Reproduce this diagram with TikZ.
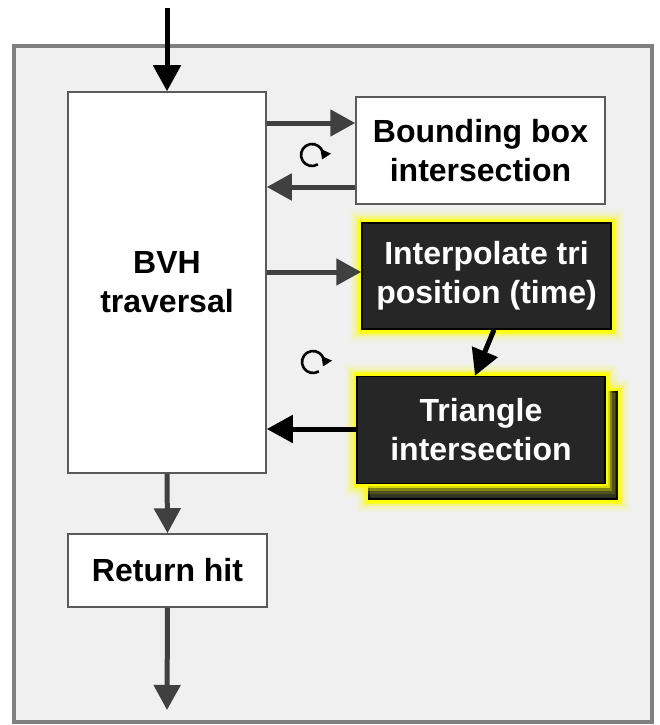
\documentclass[tikz,border=0pt]{standalone}
\usepackage{fontspec}
\setmainfont{Liberation Sans}
\usetikzlibrary{arrows.meta}
\definecolor{outerfill}{HTML}{F0F0F0}
\definecolor{outerline}{HTML}{808080}
\definecolor{boxline}{HTML}{5A5A5A}
\definecolor{arrgray}{HTML}{404040}
\definecolor{darkfill}{HTML}{262626}
\definecolor{glowy}{HTML}{FFFF00}
\begin{document}
\begin{tikzpicture}[x=1pt,y=-1pt,
  lbl/.style={inner sep=0pt, align=center, font=\bfseries\fontsize{32}{39}\selectfont},
  lightbox/.style={lbl, draw=boxline, line width=1.5pt, fill=white, text=black},
  glow/.style={preaction={draw=glowy, line width=26pt, opacity=0.07},
               preaction={draw=glowy, line width=20pt, opacity=0.14},
               preaction={draw=glowy, line width=14pt, opacity=0.3},
               preaction={draw=glowy, line width=9pt, opacity=0.7},
               preaction={draw=glowy, line width=5pt}},
  darkbox/.style={lbl, glow, draw=black, line width=1.5pt, fill=darkfill, text=white},
  grayarrow/.style={draw=arrgray, line width=5pt, -{Triangle[length=25pt,width=26pt]}},
  blackarrow/.style={draw=black, line width=5pt, -{Triangle[length=26pt,width=27pt]}},
  spin/.style={draw=black, line width=2.6pt, -{Triangle[length=9pt,width=11pt]}}
]
\useasboundingbox (0,0) rectangle (659,725);
% outer frame
\node[draw=outerline, fill=outerfill, line width=4pt, minimum width=638pt, minimum height=676pt, inner sep=0pt] (frame) at (333,384) {};
% boxes
\node[lightbox, minimum width=198pt, minimum height=381pt] (bvh) at (167,282.5) {BVH\\traversal};
\node[lightbox, minimum width=249pt, minimum height=107pt] (bbox) at (480.5,150.5) {Bounding box\\intersection};
\node[darkbox, minimum width=249pt, minimum height=106pt] (interp) at (486.5,276) {Interpolate tri\\position (time)};
\node[darkbox, minimum width=248pt, minimum height=107pt] (trishadow) at (493,445.5) {};
\node[darkbox, minimum width=248pt, minimum height=107pt] (tri) at (481,430) {Triangle\\intersection};
\node[lightbox, minimum width=199pt, minimum height=73pt] (ret) at (167.5,570.5) {Return hit};
% free ends
\coordinate (start) at (167,8);
\coordinate (finish) at (167,710);
% connectors
\draw[blackarrow] (start) -- (bvh.north);
\draw[grayarrow] (bvh.east |- 0,123) -- (bbox.west |- 0,123);
\draw[grayarrow] (bbox.west |- 0,187) -- (bvh.east |- 0,187);
\draw[grayarrow] (bvh.east |- 0,272) -- (interp.west |- 0,272);
\draw[blackarrow] (interp.south -| 494,0) -- (tri.north -| 475,0);
\draw[blackarrow] (tri.west |- 0,429) -- (bvh.east |- 0,429);
\draw[grayarrow] (bvh.south) -- (ret.north);
\draw[grayarrow] (ret.south) -- (finish);
% loop icons
\coordinate (rot1) at (312,155);
\coordinate (rot2) at (313,362);
\begin{scope}[shift={(rot1)}, x=1pt, y=1pt]
  \draw[spin] (-58:11) arc[start angle=-58, end angle=-384, radius=11];
\end{scope}
\begin{scope}[shift={(rot2)}, x=1pt, y=1pt]
  \draw[spin] (-58:11) arc[start angle=-58, end angle=-384, radius=11];
\end{scope}
\end{tikzpicture}
\end{document}
